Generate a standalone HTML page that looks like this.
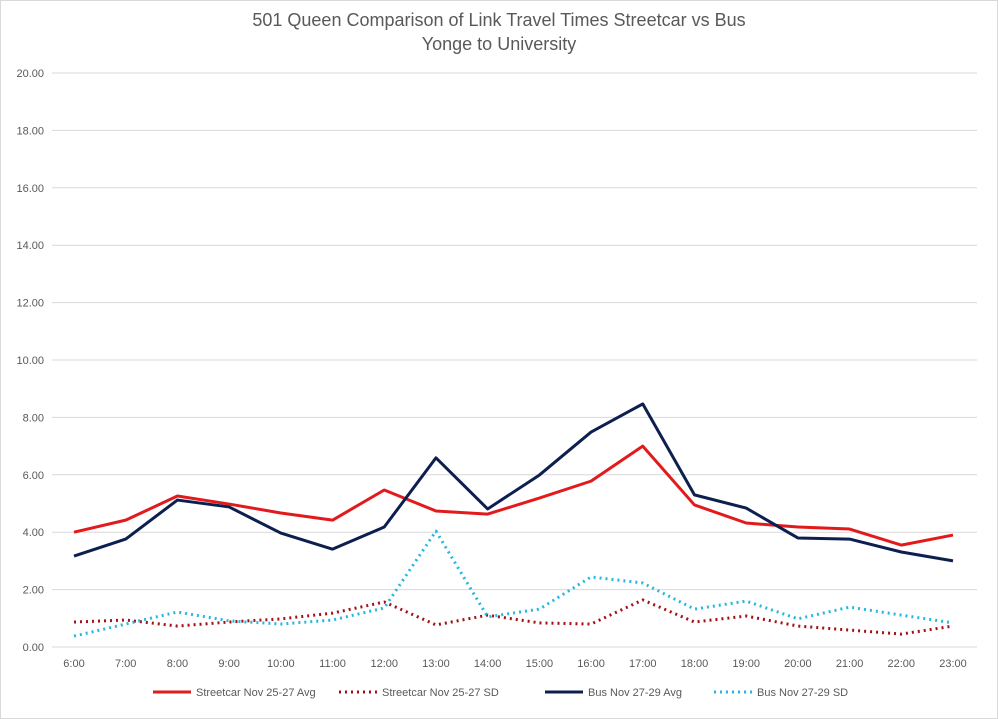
<!DOCTYPE html>
<html><head><meta charset="utf-8"><style>
html,body{margin:0;padding:0;background:#fff;}
svg{display:block;font-family:"Liberation Sans",Calibri,sans-serif;}
</style></head><body>
<svg id="chart" width="998" height="719" viewBox="0 0 998 719">
<rect x="0.5" y="0.5" width="997" height="718" fill="#fff" stroke="#d9d9d9"/>
<text x="499" y="26" text-anchor="middle" font-size="18" fill="#595959">501 Queen Comparison of Link Travel Times Streetcar vs Bus</text>
<text x="499" y="50" text-anchor="middle" font-size="18" fill="#595959">Yonge to University</text>
<g id="grid"></g><g id="xlab"></g><g id="series"></g><g id="legend"></g>
</svg>
<script>
const categories=["6:00","7:00","8:00","9:00","10:00","11:00","12:00","13:00","14:00","15:00","16:00","17:00","18:00","19:00","20:00","21:00","22:00","23:00"];
const yTicks=[0,2,4,6,8,10,12,14,16,18,20];
const streetcarAvg=[4.0,4.42,5.26,4.98,4.67,4.42,5.47,4.74,4.63,5.19,5.78,7.0,4.95,4.32,4.18,4.11,3.55,3.9];
const streetcarSD=[0.87,0.94,0.73,0.87,0.98,1.18,1.57,0.77,1.11,0.84,0.80,1.64,0.87,1.08,0.73,0.59,0.45,0.73];
const busAvg=[3.17,3.76,5.12,4.88,3.97,3.41,4.18,6.59,4.81,5.99,7.49,8.47,5.3,4.84,3.8,3.76,3.31,3.0];
const busSD=[0.38,0.8,1.22,0.91,0.8,0.94,1.36,4.04,1.05,1.32,2.44,2.23,1.32,1.6,0.98,1.39,1.11,0.84];
const seriesNames=["Streetcar Nov 25-27 Avg","Streetcar Nov 25-27 SD","Bus Nov 27-29 Avg","Bus Nov 27-29 SD"];
const NS="http://www.w3.org/2000/svg";
const x0=74,x1=953,plotL=52,plotR=977,yBase=647,yTop=73;
const xs=i=>x0+i*(x1-x0)/(categories.length-1);
const ys=v=>yBase-v*(yBase-yTop)/20;
function mk(t,a,p){const e=document.createElementNS(NS,t);for(const k in a)e.setAttribute(k,a[k]);p.appendChild(e);return e;}
const grid=document.getElementById('grid');
yTicks.forEach(v=>{
 const l=mk('line',{x1:plotL,x2:plotR,y1:ys(v),y2:ys(v),stroke:'#d9d9d9','stroke-width':1},grid);
 
 
 const t=mk('text',{x:44,y:ys(v)+4,'text-anchor':'end','font-size':11,fill:'#595959'},grid);
 t.textContent=v.toFixed(2);
 
 
});
const xl=document.getElementById('xlab');
categories.forEach((c,i)=>{
 const t=mk('text',{x:xs(i),y:667,'text-anchor':'middle','font-size':11,fill:'#595959'},xl);
 t.textContent=c;
 
 
});
const styles=[
 {data:streetcarAvg,color:'#e31a1c',w:3,dash:null},
 {data:streetcarSD,color:'#a50f15',w:3,dash:'2 4'},
 {data:busAvg,color:'#0d1f4f',w:3,dash:null},
 {data:busSD,color:'#23b8e0',w:3,dash:'2 4'}];
const sg=document.getElementById('series');
styles.forEach((s,k)=>{
 const pts=s.data.map((v,i)=>xs(i)+','+ys(v)).join(' ');
 const a={points:pts,fill:'none',stroke:s.color,'stroke-width':s.w,'stroke-linejoin':'round'};
 if(s.dash){a['stroke-dasharray']=s.dash;}
 const p=mk('polyline',a,sg);
 
 
});
const lg=document.getElementById('legend');
const lx=[153,339,545,714];
styles.forEach((s,k)=>{
 const a={x1:lx[k],x2:lx[k]+38,y1:692,y2:692,stroke:s.color,'stroke-width':3};
 if(s.dash)a['stroke-dasharray']=s.dash;
 const l=mk('line',a,lg);
 
 
 const t=mk('text',{x:lx[k]+43,y:696,'font-size':11,fill:'#595959'},lg);
 t.textContent=seriesNames[k];
 
 
});
</script>
</body></html>
